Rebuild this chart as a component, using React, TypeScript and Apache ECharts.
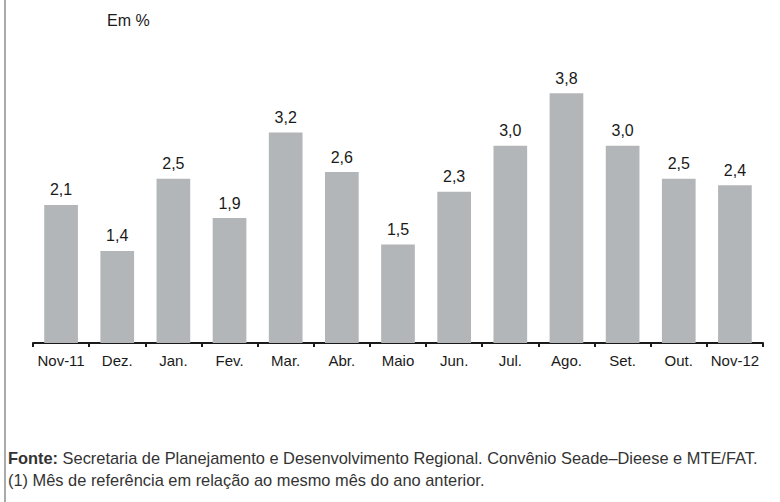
import React, { useEffect, useRef } from "react";
import * as echarts from "echarts";

const categories = ["Nov-11", "Dez.", "Jan.", "Fev.", "Mar.", "Abr.", "Maio", "Jun.", "Jul.", "Ago.", "Set.", "Out.", "Nov-12"];
const values = [2.1, 1.4, 2.5, 1.9, 3.2, 2.6, 1.5, 2.3, 3.0, 3.8, 3.0, 2.5, 2.4];
const unitLabel = "Em %";
const sourceLabel = "Fonte:";
const sourceText = " Secretaria de Planejamento e Desenvolvimento Regional. Convênio Seade–Dieese e MTE/FAT.";
const noteText = "(1) Mês de referência em relação ao mesmo mês do ano anterior.";

const FONT = "'Liberation Sans', Arial, sans-serif";

export default function App() {
  const ref = useRef<HTMLDivElement>(null);
  useEffect(() => {
    if (!ref.current) return;
    const chart = echarts.init(ref.current, null, { renderer: "svg" });
    chart.setOption({
      animation: false,
      backgroundColor: "#ffffff",
      grid: { left: 33, right: 17, top: 80, bottom: 159, containLabel: false },
      xAxis: {
        type: "category",
        data: categories,
        axisLine: { show: true, lineStyle: { color: "#1a1a1a", width: 2 } },
        axisTick: { show: true, inside: false, length: 4, lineStyle: { color: "#1a1a1a", width: 2 } },
        axisLabel: { color: "#1a1a1a", fontSize: 15, fontFamily: FONT, margin: 10, interval: 0 },
      },
      yAxis: { type: "value", min: 0, max: 4, show: false, splitLine: { show: false } },
      series: [
        {
          type: "bar",
          data: values,
          barWidth: "60%",
          itemStyle: { color: "#b3b6b8" },
          label: {
            show: true,
            position: "top",
            distance: 7,
            color: "#1a1a1a",
            fontSize: 16,
            fontFamily: FONT,
            formatter: (p: any) => p.value.toFixed(1).replace(".", ","),
          },
        },
      ],
      graphic: [
        { type: "rect", shape: { x: 4, y: 0, width: 2, height: 502 }, style: { fill: "#a9a9a9" } },
        {
          type: "text",
          x: 107,
          y: 20,
          style: { text: unitLabel, fontSize: 16, fontFamily: FONT, fill: "#1a1a1a", verticalAlign: "middle" },
        },
        {
          type: "text",
          x: 8,
          y: 458,
          style: {
            text: "{b|" + sourceLabel + "}" + sourceText,
            fontSize: 16.4,
            fontFamily: FONT,
            fill: "#333333",
            verticalAlign: "middle",
            rich: { b: { fontWeight: "bold", fontSize: 16.4, fontFamily: FONT, fill: "#333333" } },
          },
        },
        {
          type: "text",
          x: 8,
          y: 480,
          style: { text: noteText, fontSize: 16.4, fontFamily: FONT, fill: "#333333", verticalAlign: "middle" },
        },
      ],
    });
    return () => chart.dispose();
  }, []);
  return <div ref={ref} style={{ position: "absolute", left: 0, top: 0, width: 780, height: 502 }} />;
}
